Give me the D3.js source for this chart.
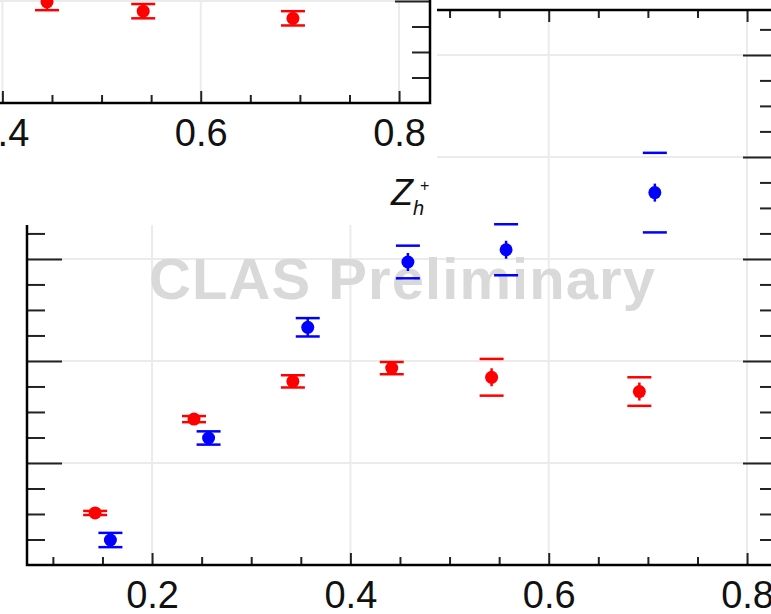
<!DOCTYPE html>
<html>
<head>
<meta charset="utf-8">
<script src="https://cdn.jsdelivr.net/npm/d3@7"></script>
<style>
  body { margin: 0; background: #fff; }
  svg { display: block; font-family: "Liberation Sans", Arial, Helvetica, sans-serif; }
</style>
</head>
<body>
<svg width="771" height="614"></svg>
<script>
// z_h bin centres and values
const redZ = [0.1426, 0.2423, 0.342, 0.4417, 0.5424, 0.6914];
const redVal = [0.051, 0.143, 0.180, 0.193, 0.184, 0.170];
const redErr = [0.002, 0.003, 0.006, 0.006, 0.018, 0.014];

const blueZ = [0.158, 0.257, 0.357, 0.458, 0.557, 0.707];
const blueVal = [0.0245, 0.1245, 0.233, 0.297, 0.309, 0.365];
const blueErr = [0.007, 0.0065, 0.009, 0.016, 0.025, 0.039];

// the panel above (only its lower edge shows)
const insetZ = [0.445, 0.542, 0.693];
const insetVal = [0.099, 0.090, 0.083];
const insetErr = [0.008, 0.007, 0.007];

const xMajor = [0.2, 0.4, 0.6, 0.8];
const xMinor = [0.1, 0.15, 0.25, 0.3, 0.35, 0.45, 0.5, 0.55, 0.65, 0.7, 0.75];
const yMajor = [0.1, 0.2, 0.3, 0.4, 0.5];
const yMinor = d3.range(0.025, 0.54, 0.025).filter(v => Math.abs(v * 10 - Math.round(v * 10)) > 1e-6);

const svg = d3.select('svg');
const frame = {left: 27, right: 778, top: 10, bottom: 565};

const x = d3.scaleLinear().domain([0.0739, 0.8312]).range([frame.left, frame.right]);
const y = d3.scaleLinear().domain([0, 0.544]).range([frame.bottom, frame.top]);

function drawPanel (g, series, opts) {
  // grid
  g.append('g').selectAll('line')
    .data(xMajor).enter().append('line')
    .attr('x1', d => x(d)).attr('x2', d => x(d))
    .attr('y1', frame.top).attr('y2', frame.bottom)
    .attr('stroke', '#ebebeb').attr('stroke-width', 2);
  g.append('g').selectAll('line')
    .data(yMajor).enter().append('line')
    .attr('y1', d => y(d)).attr('y2', d => y(d))
    .attr('x1', frame.left).attr('x2', frame.right)
    .attr('stroke', '#ebebeb').attr('stroke-width', 2);

  if (opts.watermark) {
    g.append('text')
      .attr('x', 149).attr('y', 299)
      .attr('font-size', 58).attr('font-weight', 'bold')
      .attr('textLength', 506).attr('lengthAdjust', 'spacing')
      .attr('fill', '#d9d9d9')
      .text('CLAS Preliminary');
  }

  // ticks, all pointing inwards
  const noDomain = sel => sel.select('.domain').remove();
  const axes = [
    [d3.axisBottom(x).tickValues(xMajor).tickSize(-12).tickPadding(16).tickFormat(d3.format('.1f')), frame.bottom, 'x'],
    [d3.axisBottom(x).tickValues(xMinor).tickSize(-8).tickFormat(''), frame.bottom, 'x'],
    [d3.axisTop(x).tickValues(xMajor).tickSize(-12).tickFormat(''), frame.top, 'x'],
    [d3.axisTop(x).tickValues(xMinor).tickSize(-8).tickFormat(''), frame.top, 'x'],
    [d3.axisLeft(y).tickValues(yMajor).tickSize(-35).tickFormat(''), frame.left, 'y'],
    [d3.axisLeft(y).tickValues(yMinor).tickSize(-18).tickFormat(''), frame.left, 'y'],
    [d3.axisRight(y).tickValues(yMajor).tickSize(-35).tickFormat(''), frame.right, 'y'],
    [d3.axisRight(y).tickValues(yMinor).tickSize(-18).tickFormat(''), frame.right, 'y']
  ];
  axes.forEach(([axis, pos, dir]) => {
    const a = g.append('g')
      .attr('transform', dir === 'x' ? `translate(0,${pos})` : `translate(${pos},0)`)
      .call(axis)
      .call(noDomain);
    a.selectAll('line').attr('stroke', '#222').attr('stroke-width', 2);
    a.selectAll('text')
      .attr('font-size', 38).attr('fill', '#111')
      .attr('font-family', '"Liberation Sans", Arial, sans-serif');
  });

  g.append('rect')
    .attr('x', frame.left).attr('y', frame.top)
    .attr('width', frame.right - frame.left).attr('height', frame.bottom - frame.top)
    .attr('fill', 'none').attr('stroke', '#000').attr('stroke-width', 2.5);

  // points with error caps
  series.forEach(s => {
    const pts = s.z.map((z, i) => ({z: z, v: s.val[i], e: s.err[i]}));
    const sg = g.append('g');
    const p = sg.selectAll('g').data(pts).enter().append('g');
    p.append('line')
      .attr('x1', d => x(d.z)).attr('x2', d => x(d.z))
      .attr('y1', d => Math.min(y(d.v - d.e), y(d.v) + 9))
      .attr('y2', d => Math.max(y(d.v + d.e), y(d.v) - 9))
      .attr('stroke', s.color).attr('stroke-width', 2.5);
    [1, -1].forEach(sign => {
      p.append('line')
        .attr('x1', d => x(d.z) - 12).attr('x2', d => x(d.z) + 12)
        .attr('y1', d => y(d.v + sign * d.e)).attr('y2', d => y(d.v + sign * d.e))
        .attr('stroke', s.color).attr('stroke-width', 2.5);
    });
    p.append('circle')
      .attr('cx', d => x(d.z)).attr('cy', d => y(d.v))
      .attr('r', 6.5)
      .attr('fill', s.color);
  });
}

// main panel
drawPanel(svg.append('g'), [
  {z: redZ, val: redVal, err: redErr, color: '#ff0000'},
  {z: blueZ, val: blueVal, err: blueErr, color: '#0000ff'}
], {watermark: true});

// white area where the neighbouring panel sits on top
svg.append('rect')
  .attr('x', 0).attr('y', 0).attr('width', 437).attr('height', 225)
  .attr('fill', '#fff');

drawPanel(svg.append('g').attr('transform', 'translate(-348,-462)'), [
  {z: insetZ, val: insetVal, err: insetErr, color: '#ff0000'}
], {watermark: false});

// Z_h^+ label
const lab = svg.append('g').attr('font-style', 'italic').attr('fill', '#111');
lab.append('text').attr('x', 391).attr('y', 205).attr('font-size', 36).text('Z');
lab.append('text').attr('x', 413).attr('y', 215).attr('font-size', 20).text('h');
lab.append('text').attr('x', 420).attr('y', 191).attr('font-size', 16).attr('font-style', 'normal').text('+');
</script>
</body>
</html>
